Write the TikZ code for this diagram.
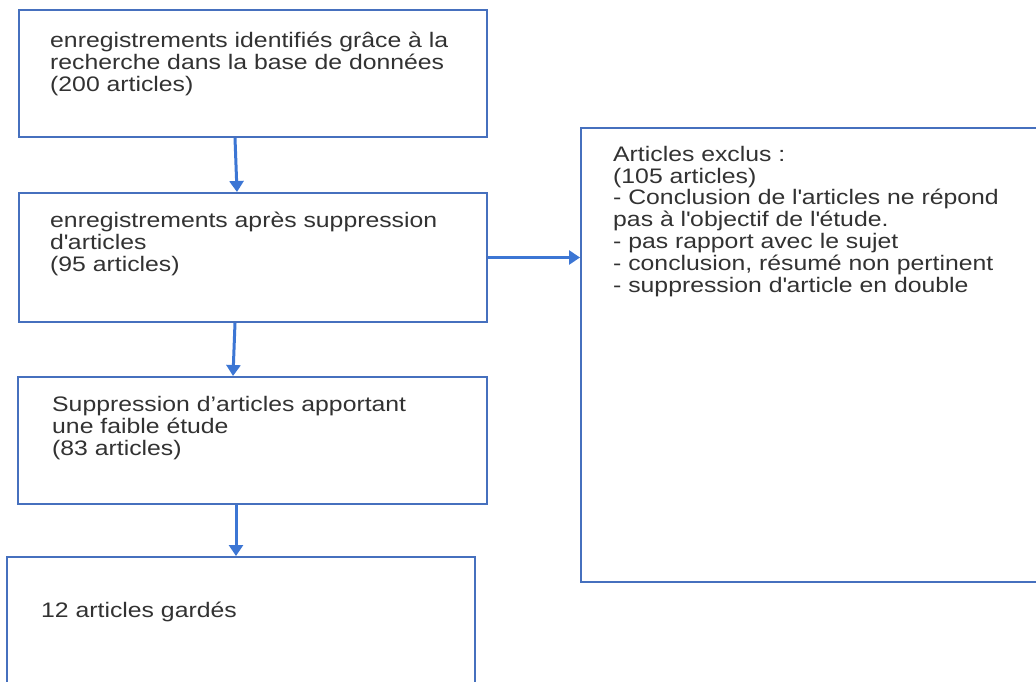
\documentclass[tikz,border=0pt]{standalone}
\usepackage{fontspec}
\setmainfont{Liberation Sans}[FakeStretch=1.18]
\usetikzlibrary{arrows.meta,calc}
\definecolor{boxblue}{RGB}{70,112,190}
\definecolor{arrblue}{RGB}{60,118,212}
\definecolor{txt}{RGB}{50,50,50}
\newcommand{\apos}{\textquotesingle}
\begin{document}
\begin{tikzpicture}[x=1pt,y=-1pt,
  box/.style={draw=boxblue,line width=2pt,rectangle,inner sep=0pt},
  lbl/.style={anchor=base west,align=left,inner sep=0pt,text=txt,
    font=\fontsize{21}{21.8}\selectfont},
  arr/.style={draw=arrblue,line width=3pt,-{Triangle[width=14pt,length=11pt]}}]
\useasboundingbox (0,0) rectangle (1036,681);
\clip (0,0) rectangle (1036,681);
\fill[white] (0,0) rectangle (1036,681);
% boxes
\node[box,minimum width=468pt,minimum height=127pt] (b1) at (253,73.5) {};
\node[box,minimum width=468pt,minimum height=129pt] (b2) at (253,257.5) {};
\node[box,minimum width=469pt,minimum height=127pt] (b3) at (252.5,440.5) {};
\node[box,minimum width=468pt,minimum height=160pt] (b4) at (241,637) {};
\node[box,minimum width=480pt,minimum height=454pt] (ex) at (821,355) {};
% texts (anchored at the baseline of their last line)
\node[lbl] (t1) at (50,91) {enregistrements identifiés grâce à la\\recherche dans la base de données\\(200 articles)};
\node[lbl] (t2) at (50,271) {enregistrements après suppression\\d\apos articles\\(95 articles)};
\node[lbl] (t3) at (52,455) {Suppression d’articles apportant\\une faible étude\\(83 articles)};
\node[lbl] (t4) at (41,617) {12 articles gardés};
\node[lbl] (t5) at (613,292) {Articles exclus :\\(105 articles)\\- Conclusion de l\apos articles ne répond\\pas à l\apos objectif de l\apos étude.\\- pas rapport avec le sujet\\- conclusion, résumé non pertinent\\- suppression d\apos article en double};
% arrows
\draw[arr] ([xshift=217pt]b1.south west) -- ([xshift=219pt]b2.north west);
\draw[arr] ([xshift=217pt]b2.south west) -- ([xshift=216pt]b3.north west);
\draw[arr] ([xshift=219pt]b3.south west) -- ([xshift=230pt]b4.north west);
\draw[arr] (b2.east) -- (b2.east -| ex.west);
\end{tikzpicture}
\end{document}
